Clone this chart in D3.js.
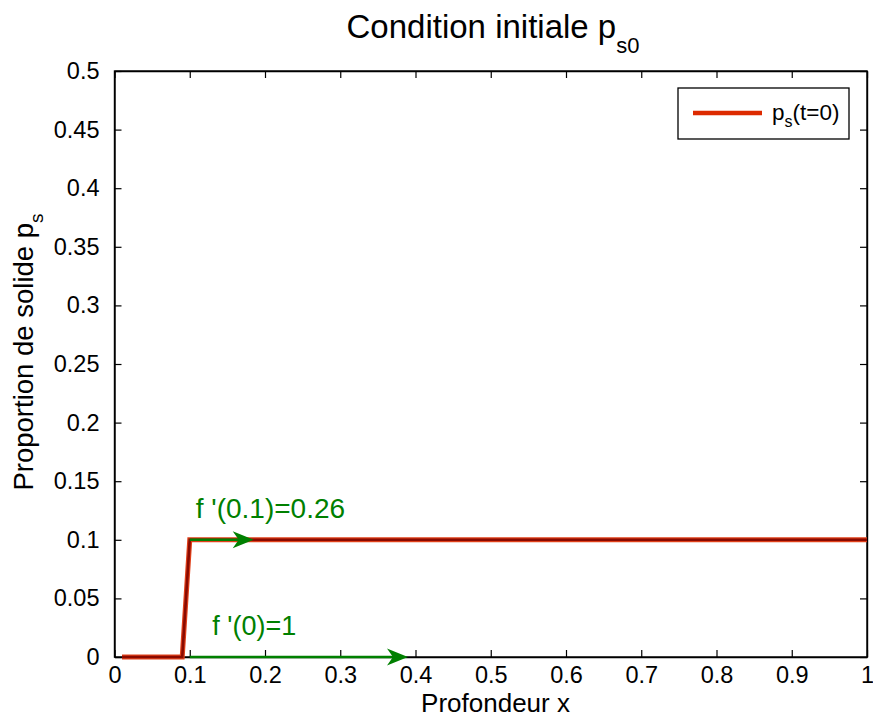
<!DOCTYPE html>
<html>
<head>
<meta charset="utf-8">
<script src="https://cdn.jsdelivr.net/npm/d3@7"></script>
<style>
  html, body { margin: 0; padding: 0; background: #fff; }
  svg { display: block; font-family: "Liberation Sans", Arial, Helvetica, sans-serif; }
</style>
</head>
<body>
<svg id="chart" width="873" height="717"></svg>
<script>
// ---- data ----
const xValues = [0.01, 0.09, 0.1, 1];
const yValues = [0, 0, 0.1, 0.1];
const xTicks = [0, 0.1, 0.2, 0.3, 0.4, 0.5, 0.6, 0.7, 0.8, 0.9, 1];
const xTickLabels = ["0", "0.1", "0.2", "0.3", "0.4", "0.5", "0.6", "0.7", "0.8", "0.9", "1"];
const yTicks = [0, 0.05, 0.1, 0.15, 0.2, 0.25, 0.3, 0.35, 0.4, 0.45, 0.5];
const yTickLabels = ["0", "0.05", "0.1", "0.15", "0.2", "0.25", "0.3", "0.35", "0.4", "0.45", "0.5"];
const arrowX0 = [0.1, 0.1];
const arrowY0 = [0.1, 0];
const arrowX1 = [0.185, 0.39];
const arrowLabels = ["f '(0.1)=0.26", "f '(0)=1"];
const arrowLabelX = [0.108, 0.13];
const arrowLabelY = [0.119, 0.019];

// ---- layout ----
const pLeft = 114.5, pRight = 867, pTop = 71, pBottom = 657;
const svg = d3.select("#chart");
const x = d3.scaleLinear().domain([0, 1]).range([pLeft, pRight]);
const y = d3.scaleLinear().domain([0, 0.5]).range([pBottom, pTop]);
const tickLen = 7;
const tickFont = 23.5;

const g = svg.append("g");

// bottom axis
const xAxis = d3.axisBottom(x).tickValues(xTicks).tickFormat((d, i) => xTickLabels[i])
  .tickSizeInner(-tickLen).tickSizeOuter(0).tickPadding(9);
const gx = g.append("g").attr("transform", `translate(0,${pBottom})`).call(xAxis);
gx.selectAll("text").attr("font-size", tickFont).attr("fill", "#000").attr("font-family", null);
// top axis ticks
const xAxisTop = d3.axisTop(x).tickValues(xTicks).tickFormat("")
  .tickSizeInner(-tickLen).tickSizeOuter(0);
g.append("g").attr("transform", `translate(0,${pTop})`).call(xAxisTop);

// left axis
const yAxis = d3.axisLeft(y).tickValues(yTicks).tickFormat((d, i) => yTickLabels[i])
  .tickSizeInner(-tickLen).tickSizeOuter(0).tickPadding(15);
const gy = g.append("g").attr("transform", `translate(${pLeft},0)`).call(yAxis);
gy.selectAll("text").attr("font-size", tickFont).attr("fill", "#000").attr("font-family", null);
// right axis ticks
const yAxisRight = d3.axisRight(y).tickValues(yTicks).tickFormat("")
  .tickSizeInner(-tickLen).tickSizeOuter(0);
g.append("g").attr("transform", `translate(${pRight},0)`).call(yAxisRight);

g.selectAll(".domain").attr("stroke", "#000").attr("stroke-width", 1.4);
g.selectAll(".tick line").attr("stroke", "#000").attr("stroke-width", 1.2);

// outer box
svg.append("rect").attr("x", pLeft).attr("y", pTop).attr("width", pRight - pLeft).attr("height", pBottom - pTop)
  .attr("fill", "none").attr("stroke", "#000").attr("stroke-width", 1.4);

// data line (red with darker core)
const line = d3.line().x((d, i) => x(xValues[i])).y((d, i) => y(yValues[i]));
svg.append("path").datum(xValues).attr("d", line).attr("fill", "none")
  .attr("stroke", "#e0401a").attr("stroke-width", 5).attr("stroke-linejoin", "miter");
svg.append("path").datum(xValues).attr("d", line).attr("fill", "none")
  .attr("stroke", "#8a0a00").attr("stroke-width", 2.6).attr("stroke-linejoin", "miter");

// arrows
const green = "#008000";
const headLen = 21, headHalf = 8.5, notch = 6;
arrowX0.forEach((xv, i) => {
  const x0 = x(xv), y0 = y(arrowY0[i]), x1 = x(arrowX1[i]);
  svg.append("line").attr("x1", x0).attr("y1", y0).attr("x2", x1 - headLen + notch).attr("y2", y0)
    .attr("stroke", green).attr("stroke-width", 2.4);
  svg.append("path")
    .attr("d", `M${x1},${y0} L${x1 - headLen},${y0 - headHalf} L${x1 - headLen + notch},${y0} L${x1 - headLen},${y0 + headHalf} Z`)
    .attr("fill", green);
  svg.append("text").attr("x", x(arrowLabelX[i])).attr("y", y(arrowLabelY[i]))
    .attr("font-size", i === 0 ? 28 : 27).attr("fill", green).text(arrowLabels[i]);
});

// title
const title = svg.append("text").attr("x", 493).attr("y", 38).attr("text-anchor", "middle")
  .attr("font-size", 33).attr("fill", "#000");
title.append("tspan").text("Condition initiale p");
title.append("tspan").attr("font-size", 22).attr("dy", 15).text("s0");

// x label
svg.append("text").attr("x", 495.5).attr("y", 711.5).attr("text-anchor", "middle")
  .attr("font-size", 26).attr("fill", "#000").text("Profondeur x");

// y label
const yl = svg.append("text").attr("transform", "translate(33,352) rotate(-90)")
  .attr("text-anchor", "middle").attr("font-size", 27.5).attr("fill", "#000");
yl.append("tspan").text("Proportion de solide p");
yl.append("tspan").attr("font-size", 19).attr("dy", 10).text("s");

// legend
svg.append("rect").attr("x", 678).attr("y", 88).attr("width", 171).attr("height", 51)
  .attr("fill", "#fff").attr("stroke", "#000").attr("stroke-width", 1.3);
svg.append("line").attr("x1", 693).attr("x2", 762).attr("y1", 113).attr("y2", 113)
  .attr("stroke", "#dd2a00").attr("stroke-width", 4.5);
const lt = svg.append("text").attr("x", 772).attr("y", 119.5).attr("font-size", 22.5).attr("fill", "#000");
lt.append("tspan").text("p");
lt.append("tspan").attr("font-size", 16).attr("dy", 7).text("s");
lt.append("tspan").attr("dy", -7).text("(t=0)");
</script>
</body>
</html>
